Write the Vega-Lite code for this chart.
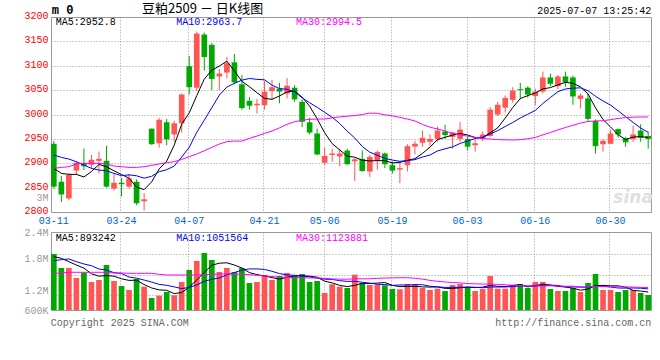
{
"$schema": "https://vega.github.io/schema/vega-lite/v6.json",
"background": "white",
"padding": {"left": 23, "top": 2, "right": 5, "bottom": 4},
"spacing": 0,
"config": {"view": {"stroke": "#999999", "strokeWidth": 1}, "font": "Liberation Mono"},
"datasets": {"k": [
{"d":"03-11","o":2940,"h":2946,"l":2848,"c":2852,"m5":2889.5,"m10":2916.8,"m30":2889.5,"v":1892,"v5":1830,"v10":1738,"v30":1447},
{"d":"03-12","o":2862,"h":2874,"l":2820,"c":2836,"m5":2879.2,"m10":2912.0,"m30":2891.5,"v":1569,"v5":1793,"v10":1761,"v30":1454},
{"d":"03-13","o":2828,"h":2879,"l":2824,"c":2876,"m5":2877.2,"m10":2908.6,"m30":2892.9,"v":1569,"v5":1715,"v10":1777,"v30":1470},
{"d":"03-14","o":2885,"h":2904,"l":2876,"c":2901,"m5":2877.2,"m10":2903.1,"m30":2898.4,"v":1338,"v5":1638,"v10":1715,"v30":1470},
{"d":"03-17","o":2901,"h":2930,"l":2886,"c":2894,"m5":2871.8,"m10":2896.3,"m30":2899.7,"v":1461,"v5":1566,"v10":1662,"v30":1470},
{"d":"03-18","o":2897,"h":2917,"l":2889,"c":2907,"m5":2882.9,"m10":2889.5,"m30":2899.7,"v":1246,"v5":1437,"v10":1622,"v30":1470},
{"d":"03-19","o":2905,"h":2924,"l":2879,"c":2909,"m5":2897.5,"m10":2886.0,"m30":2899.7,"v":1292,"v5":1381,"v10":1546,"v30":1470},
{"d":"03-20","o":2905,"h":2936,"l":2850,"c":2852,"m5":2892.8,"m10":2884.7,"m30":2898.4,"v":1638,"v5":1395,"v10":1523,"v30":1470},
{"d":"03-21","o":2848,"h":2878,"l":2844,"c":2860,"m5":2884.6,"m10":2879.2,"m30":2894.3,"v":1269,"v5":1381,"v10":1461,"v30":1454},
{"d":"03-24","o":2860,"h":2870,"l":2832,"c":2857,"m5":2877.0,"m10":2874.4,"m30":2892.9,"v":1154,"v5":1320,"v10":1443,"v30":1454},
{"d":"03-25","o":2852,"h":2878,"l":2848,"c":2869,"m5":2869.4,"m10":2876.2,"m30":2891.5,"v":1062,"v5":1283,"v10":1360,"v30":1447},
{"d":"03-26","o":2862,"h":2867,"l":2814,"c":2818,"m5":2851.1,"m10":2874.3,"m30":2891.5,"v":1315,"v5":1288,"v10":1335,"v30":1447},
{"d":"03-27","o":2822,"h":2839,"l":2803,"c":2826,"m5":2845.9,"m10":2869.4,"m30":2892.9,"v":1138,"v5":1188,"v10":1291,"v30":1447},
{"d":"03-28","o":2971,"h":2971,"l":2938,"c":2939,"m5":2861.7,"m10":2873.2,"m30":2895.6,"v":877,"v5":1109,"v10":1245,"v30":1447},
{"d":"03-31","o":2941,"h":2993,"l":2932,"c":2989,"m5":2888.2,"m10":2882.6,"m30":2898.4,"v":930,"v5":1064,"v10":1192,"v30":1424},
{"d":"04-01","o":2984,"h":2991,"l":2937,"c":2949,"m5":2904.2,"m10":2886.8,"m30":2901.1,"v":1015,"v5":1055,"v10":1169,"v30":1408},
{"d":"04-02","o":2959,"h":2987,"l":2944,"c":2982,"m5":2937.2,"m10":2894.2,"m30":2903.2,"v":939,"v5":980,"v10":1134,"v30":1408},
{"d":"04-03","o":2982,"h":3043,"l":2963,"c":3041,"m5":2980.1,"m10":2913.0,"m30":2907.9,"v":1246,"v5":1002,"v10":1095,"v30":1408},
{"d":"04-07","o":3099,"h":3120,"l":3041,"c":3056,"m5":3003.4,"m10":2932.6,"m30":2913.4,"v":1523,"v5":1131,"v10":1120,"v30":1408},
{"d":"04-08","o":3055,"h":3170,"l":3048,"c":3166,"m5":3038.7,"m10":2963.5,"m30":2918.9,"v":1731,"v5":1291,"v10":1178,"v30":1408},
{"d":"04-09","o":3164,"h":3168,"l":3090,"c":3118,"m5":3072.6,"m10":2988.4,"m30":2925.7,"v":1915,"v5":1471,"v10":1263,"v30":1415},
{"d":"04-10","o":3143,"h":3147,"l":3050,"c":3073,"m5":3090.8,"m10":3014.0,"m30":2932.5,"v":1754,"v5":1634,"v10":1307,"v30":1424},
{"d":"04-11","o":3078,"h":3093,"l":3050,"c":3084,"m5":3099.4,"m10":3039.8,"m30":2939.4,"v":1477,"v5":1680,"v10":1341,"v30":1431},
{"d":"04-14","o":3086,"h":3118,"l":3074,"c":3105,"m5":3109.2,"m10":3056.3,"m30":2944.2,"v":1569,"v5":1689,"v10":1410,"v30":1431},
{"d":"04-15","o":3107,"h":3124,"l":3062,"c":3066,"m5":3089.3,"m10":3064.0,"m30":2945.5,"v":1477,"v5":1638,"v10":1465,"v30":1431},
{"d":"04-16","o":3062,"h":3081,"l":3010,"c":3013,"m5":3068.1,"m10":3070.4,"m30":2945.5,"v":1569,"v5":1569,"v10":1520,"v30":1424},
{"d":"04-17","o":3028,"h":3036,"l":3010,"c":3018,"m5":3057.0,"m10":3073.9,"m30":2951.0,"v":1223,"v5":1463,"v10":1548,"v30":1415},
{"d":"04-18","o":3019,"h":3032,"l":3002,"c":3022,"m5":3044.7,"m10":3072.1,"m30":2955.8,"v":1246,"v5":1417,"v10":1548,"v30":1401},
{"d":"04-21","o":3019,"h":3069,"l":3010,"c":3047,"m5":3033.1,"m10":3071.2,"m30":2961.3,"v":1408,"v5":1385,"v10":1537,"v30":1385},
{"d":"04-22","o":3048,"h":3071,"l":3031,"c":3056,"m5":3031.1,"m10":3060.2,"m30":2966.0,"v":1292,"v5":1348,"v10":1493,"v30":1371},
{"d":"04-23","o":3053,"h":3065,"l":3023,"c":3047,"m5":3038.1,"m10":3053.1,"m30":2972.6,"v":1385,"v5":1311,"v10":1440,"v30":1354},
{"d":"04-24","o":3043,"h":3075,"l":3033,"c":3059,"m5":3046.3,"m10":3051.7,"m30":2980.0,"v":1454,"v5":1357,"v10":1410,"v30":1350},
{"d":"04-25","o":3055,"h":3060,"l":3026,"c":3031,"m5":3048.1,"m10":3046.4,"m30":2985.2,"v":1385,"v5":1385,"v10":1401,"v30":1344},
{"d":"04-28","o":3026,"h":3031,"l":2974,"c":2985,"m5":3035.8,"m10":3034.5,"m30":2988.0,"v":1431,"v5":1389,"v10":1387,"v30":1347},
{"d":"04-29","o":2984,"h":2993,"l":2959,"c":2963,"m5":3017.1,"m10":3024.1,"m30":2990.2,"v":1246,"v5":1380,"v10":1364,"v30":1340},
{"d":"04-30","o":2961,"h":2971,"l":2916,"c":2918,"m5":2991.2,"m10":3014.7,"m30":2990.6,"v":1269,"v5":1357,"v10":1334,"v30":1341},
{"d":"05-06","o":2901,"h":2932,"l":2896,"c":2915,"m5":2962.5,"m10":3004.4,"m30":2990.8,"v":992,"v5":1265,"v10":1311,"v30":1331},
{"d":"05-07","o":2917,"h":2930,"l":2903,"c":2920,"m5":2940.3,"m10":2994.2,"m30":2993.1,"v":1193,"v5":1226,"v10":1305,"v30":1316},
{"d":"05-08","o":2914,"h":2930,"l":2894,"c":2920,"m5":2927.3,"m10":2981.6,"m30":2995.1,"v":1138,"v5":1168,"v10":1278,"v30":1312},
{"d":"05-09","o":2926,"h":2930,"l":2896,"c":2898,"m5":2914.5,"m10":2965.8,"m30":2996.5,"v":1108,"v5":1140,"v10":1260,"v30":1310},
{"d":"05-12","o":2904,"h":2911,"l":2864,"c":2908,"m5":2912.4,"m10":2951.8,"m30":2997.8,"v":1415,"v5":1169,"v10":1263,"v30":1322},
{"d":"05-13","o":2909,"h":2926,"l":2883,"c":2884,"m5":2906.1,"m10":2934.3,"m30":3000.0,"v":1223,"v5":1215,"v10":1240,"v30":1319},
{"d":"05-14","o":2883,"h":2917,"l":2872,"c":2913,"m5":2904.8,"m10":2922.6,"m30":3002.9,"v":1177,"v5":1212,"v10":1219,"v30":1320},
{"d":"05-15","o":2905,"h":2926,"l":2887,"c":2923,"m5":2905.3,"m10":2916.3,"m30":3002.4,"v":1184,"v5":1221,"v10":1194,"v30":1330},
{"d":"05-16","o":2920,"h":2922,"l":2890,"c":2898,"m5":2905.3,"m10":2909.9,"m30":2999.3,"v":1170,"v5":1234,"v10":1187,"v30":1338},
{"d":"05-19","o":2896,"h":2904,"l":2879,"c":2885,"m5":2900.7,"m10":2906.6,"m30":2997.2,"v":1085,"v5":1168,"v10":1168,"v30":1341},
{"d":"05-20","o":2887,"h":2903,"l":2859,"c":2890,"m5":2901.8,"m10":2904.0,"m30":2994.1,"v":1078,"v5":1139,"v10":1177,"v30":1345},
{"d":"05-21","o":2896,"h":2939,"l":2883,"c":2935,"m5":2906.0,"m10":2905.4,"m30":2990.6,"v":1200,"v5":1143,"v10":1178,"v30":1344},
{"d":"05-22","o":2934,"h":2946,"l":2918,"c":2940,"m5":2909.5,"m10":2907.4,"m30":2986.7,"v":1200,"v5":1146,"v10":1184,"v30":1333},
{"d":"05-23","o":2942,"h":2967,"l":2934,"c":2952,"m5":2920.1,"m10":2912.7,"m30":2979.6,"v":1108,"v5":1134,"v10":1184,"v30":1312},
{"d":"05-26","o":2944,"h":2959,"l":2936,"c":2950,"m5":2933.1,"m10":2916.9,"m30":2973.9,"v":1062,"v5":1129,"v10":1149,"v30":1284},
{"d":"05-27","o":2950,"h":2975,"l":2944,"c":2967,"m5":2948.5,"m10":2925.2,"m30":2970.4,"v":1092,"v5":1132,"v10":1135,"v30":1262},
{"d":"05-28","o":2965,"h":2979,"l":2950,"c":2958,"m5":2953.2,"m10":2929.6,"m30":2966.2,"v":1038,"v5":1100,"v10":1122,"v30":1247},
{"d":"05-29","o":2954,"h":2964,"l":2930,"c":2963,"m5":2957.7,"m10":2933.6,"m30":2961.5,"v":1177,"v5":1095,"v10":1121,"v30":1234},
{"d":"05-30","o":2950,"h":2985,"l":2944,"c":2969,"m5":2961.1,"m10":2940.6,"m30":2958.2,"v":1200,"v5":1114,"v10":1124,"v30":1225},
{"d":"06-03","o":2950,"h":2955,"l":2926,"c":2934,"m5":2958.0,"m10":2945.6,"m30":2955.6,"v":1131,"v5":1128,"v10":1128,"v30":1210},
{"d":"06-04","o":2937,"h":2948,"l":2924,"c":2941,"m5":2952.8,"m10":2950.7,"m30":2953.0,"v":1038,"v5":1117,"v10":1125,"v30":1204},
{"d":"06-05","o":2950,"h":2965,"l":2945,"c":2959,"m5":2952.9,"m10":2953.1,"m30":2950.9,"v":1085,"v5":1126,"v10":1113,"v30":1199},
{"d":"06-06","o":2956,"h":3016,"l":2954,"c":3010,"m5":2962.4,"m10":2960.1,"m30":2949.7,"v":1385,"v5":1168,"v10":1131,"v30":1198},
{"d":"06-09","o":3000,"h":3026,"l":2997,"c":3020,"m5":2972.6,"m10":2966.9,"m30":2948.5,"v":1092,"v5":1146,"v10":1130,"v30":1191},
{"d":"06-10","o":3014,"h":3039,"l":3004,"c":3034,"m5":2992.7,"m10":2975.4,"m30":2948.0,"v":1092,"v5":1138,"v10":1133,"v30":1182},
{"d":"06-11","o":3030,"h":3056,"l":3024,"c":3049,"m5":3014.3,"m10":2983.6,"m30":2947.7,"v":1177,"v5":1166,"v10":1141,"v30":1172},
{"d":"06-12","o":3052,"h":3065,"l":3031,"c":3050,"m5":3032.7,"m10":2992.8,"m30":2948.3,"v":1200,"v5":1189,"v10":1158,"v30":1166},
{"d":"06-13","o":3055,"h":3058,"l":3035,"c":3041,"m5":3038.8,"m10":3000.6,"m30":2950.2,"v":1108,"v5":1134,"v10":1151,"v30":1155},
{"d":"06-16","o":3038,"h":3053,"l":3019,"c":3047,"m5":3044.1,"m10":3008.4,"m30":2953.0,"v":1246,"v5":1164,"v10":1155,"v30":1155},
{"d":"06-17","o":3047,"h":3088,"l":3043,"c":3076,"m5":3052.4,"m10":3022.6,"m30":2958.2,"v":1246,"v5":1195,"v10":1167,"v30":1155},
{"d":"06-18","o":3076,"h":3084,"l":3058,"c":3063,"m5":3055.2,"m10":3034.8,"m30":2963.1,"v":1085,"v5":1177,"v10":1171,"v30":1158},
{"d":"06-19","o":3058,"h":3081,"l":3052,"c":3078,"m5":3060.8,"m10":3046.8,"m30":2968.4,"v":1038,"v5":1145,"v10":1167,"v30":1152},
{"d":"06-20","o":3078,"h":3088,"l":3057,"c":3066,"m5":3065.9,"m10":3052.4,"m30":2973.3,"v":1038,"v5":1131,"v10":1132,"v30":1149},
{"d":"06-23","o":3076,"h":3080,"l":3020,"c":3037,"m5":3064.0,"m10":3054.1,"m30":2977.9,"v":1108,"v5":1103,"v10":1134,"v30":1149},
{"d":"06-24","o":3032,"h":3043,"l":3012,"c":3039,"m5":3056.7,"m10":3054.6,"m30":2982.3,"v":1015,"v5":1057,"v10":1126,"v30":1136},
{"d":"06-25","o":3033,"h":3043,"l":2987,"c":2991,"m5":3042.4,"m10":3048.8,"m30":2985.8,"v":1223,"v5":1085,"v10":1131,"v30":1136},
{"d":"06-26","o":2987,"h":2990,"l":2920,"c":2935,"m5":3013.7,"m10":3037.3,"m30":2986.6,"v":1431,"v5":1163,"v10":1154,"v30":1144},
{"d":"06-27","o":2939,"h":2949,"l":2924,"c":2946,"m5":2989.7,"m10":3027.8,"m30":2987.3,"v":1062,"v5":1168,"v10":1149,"v30":1140},
{"d":"06-30","o":2940,"h":2968,"l":2940,"c":2961,"m5":2974.4,"m10":3019.2,"m30":2989.4,"v":1062,"v5":1158,"v10":1131,"v30":1137},
{"d":"07-01","o":2970,"h":2971,"l":2953,"c":2959,"m5":2958.4,"m10":3007.6,"m30":2991.9,"v":1015,"v5":1158,"v10":1108,"v30":1134},
{"d":"07-02","o":2951,"h":2954,"l":2934,"c":2943,"m5":2948.7,"m10":2995.6,"m30":2993.7,"v":1062,"v5":1126,"v10":1105,"v30":1134},
{"d":"07-03","o":2950,"h":2977,"l":2944,"c":2959,"m5":2953.6,"m10":2983.7,"m30":2994.5,"v":1062,"v5":1052,"v10":1108,"v30":1129},
{"d":"07-04","o":2967,"h":2980,"l":2944,"c":2952,"m5":2954.8,"m10":2972.3,"m30":2994.9,"v":992,"v5":1038,"v10":1103,"v30":1122},
{"d":"07-07","o":2956,"h":2965,"l":2930,"c":2950,"m5":2952.6,"m10":2963.5,"m30":2994.8,"v":946,"v5":1015,"v10":1087,"v30":1117}
]},
"vconcat": [
{
 "width": 600, "height": 195,
 "data": {"name": "k"},
 "encoding": {"x": {"field": "d", "type": "ordinal", "scale": {"type": "band", "paddingInner": 0.25, "paddingOuter": 0},
   "axis": {"values": ["03-11","03-24","04-07","04-21","05-06","05-19","06-03","06-16","06-30"], "bandPosition": 0.4, "labelAngle": 0, "labelOverlap": false, "labelColor": "#0066cc", "labelFont": "Liberation Mono", "labelFontSize": 10, "labelPadding": 3, "ticks": false, "domain": false, "grid": true, "gridColor": "#999999", "gridDash": [1,2], "gridOpacity": {"condition": {"test": "datum.value==='03-11'", "value": 0}, "value": 1}, "title": null}}},
 "layer": [
  {"mark": {"type": "rule", "strokeWidth": 1},
   "encoding": {
    "y": {"field": "l", "type": "quantitative", "scale": {"domain": [2800, 3200], "zero": false, "nice": false},
      "axis": {"values": [2800,2826,2850,2900,2950,3000,3050,3100,3150,3200], "labelOverlap": false, "labelOffset": -1.5, "labelExpr": "datum.value==2826 ? '3M' : datum.value + ''", "labelColor": {"condition": {"test": "datum.value==2826", "value": "#999999"}, "value": "#ff0000"}, "labelFont": "Liberation Mono", "labelFontSize": 10, "labelPadding": 3, "ticks": false, "domain": false, "grid": true, "gridColor": "#999999", "gridDash": [1,2], "gridOpacity": {"condition": {"test": "datum.value==2826 || datum.value==2800", "value": 0}, "value": 1}, "title": null}},
    "y2": {"field": "h"},
    "color": {"condition": {"test": "datum.c >= datum.o", "value": "#ff5555"}, "value": "#00a800"}}},
  {"mark": {"type": "bar"},
   "encoding": {"y": {"field": "o", "type": "quantitative", "axis": null}, "y2": {"field": "c"},
    "color": {"condition": {"test": "datum.c >= datum.o", "value": "#ff5555"}, "value": "#00a800"}}},
  {"mark": {"type": "line", "color": "#000000", "strokeWidth": 1}, "encoding": {"y": {"field": "m5", "type": "quantitative", "axis": null}}},
  {"mark": {"type": "line", "color": "#0000ff", "strokeWidth": 1}, "encoding": {"y": {"field": "m10", "type": "quantitative", "axis": null}}},
  {"mark": {"type": "line", "color": "#ff00ff", "strokeWidth": 1}, "encoding": {"y": {"field": "m30", "type": "quantitative", "axis": null}}},
  {"data": {"values": [{}]}, "mark": {"type": "text", "align": "left", "baseline": "middle", "font": "Liberation Mono", "fontSize": 10, "color": "#000000", "dx": 2},
   "encoding": {"x": {"datum": "03-11"}, "y": {"datum": 3189, "axis": null}, "text": {"value": "MA5:2952.8"}}},
  {"data": {"values": [{}]}, "mark": {"type": "text", "align": "left", "baseline": "middle", "font": "Liberation Mono", "fontSize": 10, "color": "#0000ff", "dx": 2},
   "encoding": {"x": {"datum": "04-02"}, "y": {"datum": 3189, "axis": null}, "text": {"value": "MA10:2963.7"}}},
  {"data": {"values": [{}]}, "mark": {"type": "text", "align": "left", "baseline": "middle", "font": "Liberation Mono", "fontSize": 10, "color": "#ff00ff", "dx": 1.5},
   "encoding": {"x": {"datum": "04-25"}, "y": {"datum": 3189, "axis": null}, "text": {"value": "MA30:2994.5"}}},
  {"data": {"values": [{}]}, "mark": {"type": "text", "align": "left", "baseline": "middle", "font": "Noto Sans CJK SC", "fontSize": 13, "color": "#000000", "dx": -2},
   "encoding": {"x": {"datum": "03-27"}, "y": {"datum": 3216.5, "axis": null}, "text": {"value": "豆粕2509 － 日K线图"}}},
  {"data": {"values": [{}]}, "mark": {"type": "text", "align": "left", "baseline": "middle", "font": "Liberation Mono", "fontSize": 12, "fontWeight": "bold", "color": "#000000", "dx": -2},
   "encoding": {"x": {"datum": "03-11"}, "y": {"datum": 3215, "axis": null}, "text": {"value": "m 0"}}},
  {"data": {"values": [{}]}, "mark": {"type": "text", "align": "right", "baseline": "middle", "font": "Liberation Mono", "fontSize": 10, "color": "#000000", "dx": 3},
   "encoding": {"x": {"datum": "07-07"}, "y": {"datum": 3213, "axis": null}, "text": {"value": "2025-07-07 13:25:42"}}},
  {"data": {"values": [{}]}, "mark": {"type": "text", "align": "center", "baseline": "middle", "font": "DejaVu Sans", "fontSize": 17, "fontStyle": "italic", "fontWeight": "bold", "color": "#e0e0e0"},
   "encoding": {"x": {"datum": "07-03"}, "y": {"datum": 2829, "axis": null}, "text": {"value": "sina"}}}
 ],
 "resolve": {"axis": {"y": "independent"}}
},
{
 "width": 600, "height": 78,
 "data": {"name": "k"},
 "encoding": {"x": {"field": "d", "type": "ordinal", "scale": {"type": "band", "paddingInner": 0.25, "paddingOuter": 0},
   "axis": {"values": ["03-11","03-24","04-07","04-21","05-06","05-19","06-03","06-16","06-30"], "bandPosition": 0.4, "labels": false, "ticks": false, "domain": false, "grid": true, "gridColor": "#999999", "gridDash": [1,2], "gridOpacity": {"condition": {"test": "datum.value==='03-11'", "value": 0}, "value": 1}, "title": null}}},
 "layer": [
  {"mark": {"type": "bar"},
   "encoding": {
    "y": {"field": "v", "type": "quantitative", "scale": {"domain": [600, 2400], "zero": false, "nice": false},
      "axis": {"values": [600, 1050, 1793, 2400], "labelOverlap": false, "labelExpr": "datum.value==600 ? '600K' : datum.value==1050 ? '1.2M' : datum.value==1793 ? '1.8M' : '2.4M'", "labelColor": "#999999", "labelFont": "Liberation Mono", "labelFontSize": 10, "labelPadding": 3, "ticks": false, "domain": false, "grid": false, "title": null}},
    "y2": {"datum": 600},
    "color": {"condition": {"test": "datum.c >= datum.o", "value": "#ff5555"}, "value": "#00a800"}}},
  {"mark": {"type": "line", "color": "#000000", "strokeWidth": 1},
   "encoding": {"y": {"field": "v5", "type": "quantitative",
     "axis": {"orient": "right", "values": [944, 1415, 1885], "labels": false, "ticks": false, "domain": false, "grid": true, "gridColor": "#999999", "gridDash": [1,2], "title": null}}}},
  {"mark": {"type": "line", "color": "#0000ff", "strokeWidth": 1}, "encoding": {"y": {"field": "v10", "type": "quantitative", "axis": null}}},
  {"mark": {"type": "line", "color": "#ff00ff", "strokeWidth": 1}, "encoding": {"y": {"field": "v30", "type": "quantitative", "axis": null}}},
  {"data": {"values": [{}]}, "mark": {"type": "text", "align": "left", "baseline": "middle", "font": "Liberation Mono", "fontSize": 10, "color": "#000000", "dx": 2},
   "encoding": {"x": {"datum": "03-11"}, "y": {"datum": 2273, "axis": null}, "text": {"value": "MA5:893242"}}},
  {"data": {"values": [{}]}, "mark": {"type": "text", "align": "left", "baseline": "middle", "font": "Liberation Mono", "fontSize": 10, "color": "#0000ff", "dx": 2},
   "encoding": {"x": {"datum": "04-02"}, "y": {"datum": 2273, "axis": null}, "text": {"value": "MA10:1051564"}}},
  {"data": {"values": [{}]}, "mark": {"type": "text", "align": "left", "baseline": "middle", "font": "Liberation Mono", "fontSize": 10, "color": "#ff00ff", "dx": 1.5},
   "encoding": {"x": {"datum": "04-25"}, "y": {"datum": 2273, "axis": null}, "text": {"value": "MA30:1123881"}}},
  {"data": {"values": [{}]}, "mark": {"type": "text", "align": "left", "baseline": "middle", "font": "Liberation Mono", "fontSize": 10, "color": "#666666", "dx": -3},
   "encoding": {"x": {"datum": "03-11"}, "y": {"datum": 300, "axis": null}, "text": {"value": "Copyright 2025 SINA.COM"}}},
  {"data": {"values": [{}]}, "mark": {"type": "text", "align": "right", "baseline": "middle", "font": "Liberation Mono", "fontSize": 10, "color": "#666666", "dx": 3},
   "encoding": {"x": {"datum": "07-07"}, "y": {"datum": 300, "axis": null}, "text": {"value": "http://finance.sina.com.cn"}}}
 ],
 "resolve": {"axis": {"y": "independent"}}
}
]
}
